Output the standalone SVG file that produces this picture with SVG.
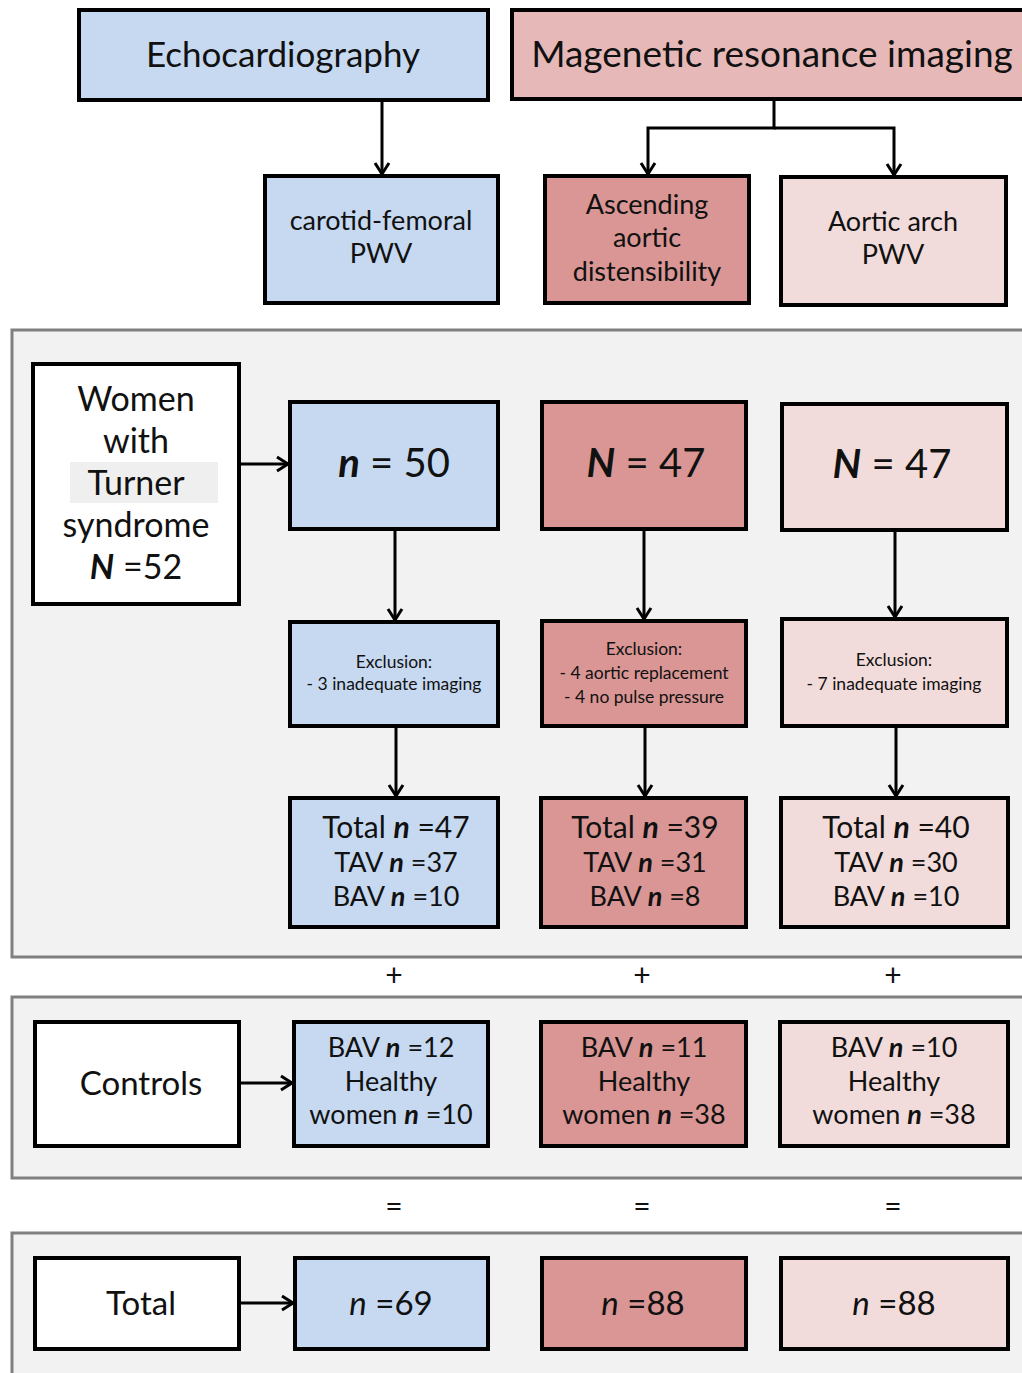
<svg xmlns="http://www.w3.org/2000/svg" width="1022" height="1373" viewBox="0 0 1022 1373">
<defs>
<marker id="ah" markerUnits="userSpaceOnUse" markerWidth="18" markerHeight="18" viewBox="0 0 18 18" refX="15" refY="9" orient="auto">
<path d="M4,2 L15,9 L4,16" fill="none" stroke="#000" stroke-width="3"/>
</marker>
</defs>
<style>
.box{stroke:#000;stroke-width:4}
.blue{fill:#c6d9f1}
.red{fill:#d99694}
.pink{fill:#f2dcdb}
.hdr{fill:#e6b9b8}
.white{fill:#fff}
.panel{fill:#f2f2f2;stroke:#808080;stroke-width:3}
text{font-family:Lato,"Open Sans","DejaVu Sans",sans-serif;fill:#111;text-anchor:middle}
.n{font-weight:bold;font-style:italic}
.sm{font-size:17.5px}
.op{font-size:30px}
.con{stroke:#000;stroke-width:3;fill:none}
</style>

<rect class="panel" x="12" y="330" width="1020" height="627"/>
<rect class="panel" x="12" y="997" width="1020" height="181"/>
<rect class="panel" x="12" y="1233" width="1020" height="150"/>

<g id="echo"><rect class="box blue" x="79" y="10" width="409" height="90"/><text x="283" y="67" font-size="35">Echocardiography</text></g>
<g id="mri"><rect class="box hdr" x="512" y="10" width="520" height="89"/><text x="772" y="67" font-size="37">Magenetic resonance imaging</text></g>
<g id="cfpwv"><rect class="box blue" x="265" y="176" width="233" height="127"/><text x="381" y="230" font-size="27">carotid-femoral</text><text x="381" y="263" font-size="27">PWV</text></g>
<g id="aad"><rect class="box red" x="545" y="176" width="204" height="127"/><text x="647" y="214" font-size="27">Ascending</text><text x="647" y="247" font-size="27">aortic</text><text x="647" y="281" font-size="27">distensibility</text></g>
<g id="aapwv"><rect class="box pink" x="781" y="177" width="225" height="128"/><text x="893" y="231" font-size="27">Aortic arch</text><text x="893" y="264" font-size="27">PWV</text></g>

<g id="women"><rect class="box white" x="33" y="364" width="206" height="240"/>
<rect x="70" y="462" width="148" height="41" fill="#efefef"/>
<text x="136" y="411" font-size="34">Women</text><text x="136" y="453" font-size="34">with</text><text x="136" y="495" font-size="34">Turner</text><text x="136" y="537" font-size="34">syndrome</text><text x="136" y="579" font-size="34"><tspan class="n">N</tspan> =52</text></g>

<g id="n50"><rect class="box blue" x="290" y="402" width="208" height="127"/><text x="394" y="477" font-size="40"><tspan class="n">n</tspan> = 50</text></g>
<g id="n47a"><rect class="box red" x="542" y="402" width="204" height="127"/><text x="646" y="477" font-size="40"><tspan class="n">N</tspan> = 47</text></g>
<g id="n47b"><rect class="box pink" x="782" y="404" width="225" height="126"/><text x="892" y="478" font-size="40"><tspan class="n">N</tspan> = 47</text></g>

<g id="ex1"><rect class="box blue" x="290" y="622" width="208" height="104"/><text class="sm" x="394" y="668">Exclusion:</text><text class="sm" x="394" y="690">- 3 inadequate imaging</text></g>
<g id="ex2"><rect class="box red" x="542" y="621" width="204" height="105"/><text class="sm" x="644" y="655">Exclusion:</text><text class="sm" x="644" y="679">- 4 aortic replacement</text><text class="sm" x="644" y="703">- 4 no pulse pressure</text></g>
<g id="ex3"><rect class="box pink" x="782" y="619" width="225" height="107"/><text class="sm" x="894" y="666">Exclusion:</text><text class="sm" x="894" y="690">- 7 inadequate imaging</text></g>

<g id="tot1"><rect class="box blue" x="290" y="798" width="208" height="129"/><text x="396" y="838" font-size="30">Total <tspan class="n">n</tspan> =47</text><text x="396" y="872" font-size="27">TAV <tspan class="n">n</tspan> =37</text><text x="396" y="906" font-size="27">BAV <tspan class="n">n</tspan> =10</text></g>
<g id="tot2"><rect class="box red" x="541" y="798" width="205" height="129"/><text x="645" y="838" font-size="30">Total <tspan class="n">n</tspan> =39</text><text x="645" y="872" font-size="27">TAV <tspan class="n">n</tspan> =31</text><text x="645" y="906" font-size="27">BAV <tspan class="n">n</tspan> =8</text></g>
<g id="tot3"><rect class="box pink" x="781" y="798" width="227" height="129"/><text x="896" y="838" font-size="30">Total <tspan class="n">n</tspan> =40</text><text x="896" y="872" font-size="27">TAV <tspan class="n">n</tspan> =30</text><text x="896" y="906" font-size="27">BAV <tspan class="n">n</tspan> =10</text></g>

<text class="op" x="394" y="986">+</text><text class="op" x="642" y="986">+</text><text class="op" x="893" y="986">+</text>

<g id="controls"><rect class="box white" x="35" y="1022" width="204" height="124"/><text x="141" y="1095" font-size="33">Controls</text></g>
<g id="c1"><rect class="box blue" x="294" y="1022" width="194" height="124"/><text x="391" y="1057" font-size="27">BAV <tspan class="n">n</tspan> =12</text><text x="391" y="1091" font-size="27">Healthy</text><text x="391" y="1124" font-size="27">women <tspan class="n">n</tspan> =10</text></g>
<g id="c2"><rect class="box red" x="541" y="1022" width="205" height="124"/><text x="644" y="1057" font-size="27">BAV <tspan class="n">n</tspan> =11</text><text x="644" y="1091" font-size="27">Healthy</text><text x="644" y="1124" font-size="27">women <tspan class="n">n</tspan> =38</text></g>
<g id="c3"><rect class="box pink" x="780" y="1022" width="228" height="124"/><text x="894" y="1057" font-size="27">BAV <tspan class="n">n</tspan> =10</text><text x="894" y="1091" font-size="27">Healthy</text><text x="894" y="1124" font-size="27">women <tspan class="n">n</tspan> =38</text></g>

<text class="op" x="394" y="1217">=</text><text class="op" x="642" y="1217">=</text><text class="op" x="893" y="1217">=</text>

<g id="total"><rect class="box white" x="35" y="1258" width="204" height="91"/><text x="141" y="1315" font-size="33">Total</text></g>
<g id="t1"><rect class="box blue" x="295" y="1258" width="193" height="91"/><text x="391" y="1315" font-size="33"><tspan font-style="italic">n</tspan> =69</text></g>
<g id="t2"><rect class="box red" x="542" y="1258" width="204" height="91"/><text x="643" y="1315" font-size="33"><tspan font-style="italic">n</tspan> =88</text></g>
<g id="t3"><rect class="box pink" x="781" y="1258" width="227" height="91"/><text x="894" y="1315" font-size="33"><tspan font-style="italic">n</tspan> =88</text></g>

<g id="connectors">
<path class="con" d="M382,100 V174" marker-end="url(#ah)"/>
<path class="con" d="M774,99 V128 H648 V174" marker-end="url(#ah)"/>
<path class="con" d="M774,128 H894 V175" marker-end="url(#ah)"/>
<path class="con" d="M239,464 H288" marker-end="url(#ah)"/>
<path class="con" d="M395,529 V620" marker-end="url(#ah)"/>
<path class="con" d="M644,529 V619" marker-end="url(#ah)"/>
<path class="con" d="M895,530 V617" marker-end="url(#ah)"/>
<path class="con" d="M396,726 V796" marker-end="url(#ah)"/>
<path class="con" d="M645,726 V796" marker-end="url(#ah)"/>
<path class="con" d="M896,726 V796" marker-end="url(#ah)"/>
<path class="con" d="M239,1083 H292" marker-end="url(#ah)"/>
<path class="con" d="M239,1303 H293" marker-end="url(#ah)"/>
</g>
</svg>
